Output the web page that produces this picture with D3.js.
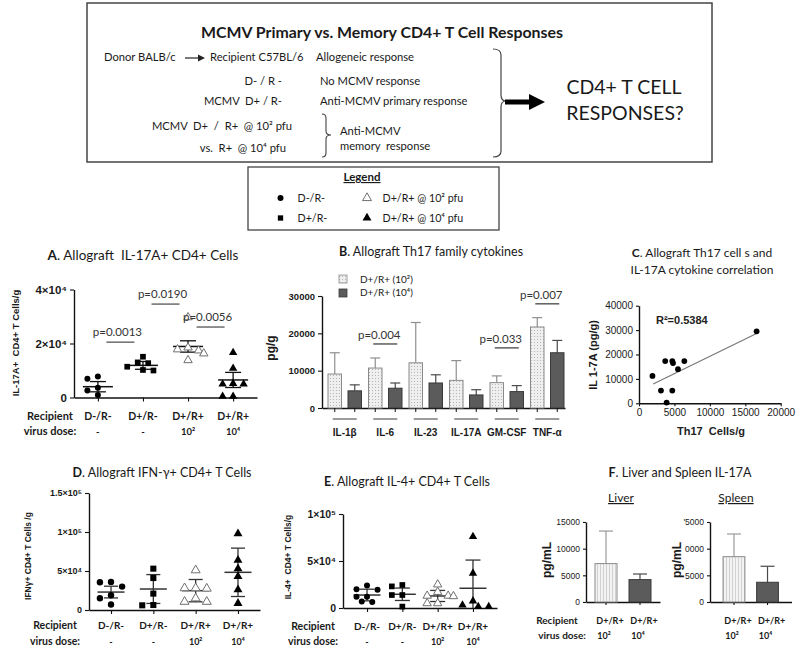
<!DOCTYPE html>
<html>
<head>
<meta charset="utf-8">
<script src="https://cdn.jsdelivr.net/npm/d3@7/dist/d3.min.js"></script>
<style>
  body { margin: 0; background: #fff; }
  text { white-space: pre; }
</style>
</head>
<body>
<div id="wrapper"></div>
<script>
// ---- values ----
const groupLabels = ["D-/R-", "D+/R-", "D+/R+", "D+/R+"];
const doseLabels = ["-", "-", "10²", "10⁴"];
const groupShapes = ["circle", "square", "openTriangle", "triangle"];

// A. IL-17A+ CD4+ cells per g
const il17Cells = [
    [7800, 6900, 3600, 2600, 900],
    [15100, 13000, 12700, 11400, 10200, 10000],
    [29700, 18500, 17800, 17400, 16300, 13800],
    [16600, 10800, 5200, 5000, 5000, 400, 400]
];
const il17Mean = [4000, 11900, 18900, 6500];
const il17Err = [1900, 1450, 2100, 2800];
const il17Ticks = [0, 20000, 40000];
const il17TickLabels = ["0", "2×10⁴", "4×10⁴"];
const il17PText = ["p=0.0013", "p=0.0190", "p=0.0056"];
const il17PPairs = [[0, 1], [1, 2], [2, 3]];
const il17PLevel = [20500, 34600, 26100];

// B. Th17 family cytokines (pg/g)
const cytokines = ["IL-1β", "IL-6", "IL-23", "IL-17A", "GM-CSF", "TNF-α"];
const cytoLow = [9100, 10700, 12100, 7400, 6800, 21700];
const cytoLowErr = [5700, 2700, 10800, 5300, 1800, 2500];
const cytoHigh = [4600, 5300, 6700, 3500, 4400, 14800];
const cytoHighErr = [1600, 1400, 2200, 1400, 1600, 3300];
const cytoTicks = [0, 10000, 20000, 30000];
const cytoLegend = ["D+/R+ (10²)", "D+/R+ (10⁴)"];
const cytoPText = ["p=0.004", "p=0.033", "p=0.007"];
const cytoPGroup = [1, 4, 5];
const cytoPLevel = [17150, 16100, 27900];

// C. correlation
const th17X = [1900, 3700, 4700, 4800, 6400, 5500, 3100, 4700, 3900, 16600];
const th17Y = [11200, 17300, 17300, 16500, 17300, 14000, 5200, 5200, 300, 29500];
const fitX = [2000, 16600];
const fitY = [7900, 28600];
const corrXTicks = [0, 5000, 10000, 15000, 20000];
const corrYTicks = [0, 10000, 20000, 30000, 40000];

// D. IFN-g+ CD4+ cells per g
const ifngCells = [
    [36000, 35500, 30000, 19000, 15000, 7000],
    [53000, 41000, 21000, 6400, 6000],
    [51000, 28000, 28000, 27500, 15000, 10600, 10600],
    [98000, 64000, 53000, 43000, 26000, 8600]
];
const ifngMean = [23000, 26900, 24800, 48300];
const ifngErr = [7500, 18500, 14300, 31000];
const ifngTicks = [0, 50000, 100000, 150000];
const ifngTickLabels = ["0", "5×10⁴", "1×10⁵", "1.5×10⁵"];

// E. IL-4+ CD4+ cells per g
const il4Cells = [
    [24000, 20000, 19500, 12000, 12000, 7000, 6500],
    [24500, 23000, 13800, 13800, 1500],
    [25000, 17000, 13000, 13000, 12500, 5000, 5000],
    [76000, 37000, 7500, 3000, 1500, 1500]
];
const il4Mean = [13800, 14600, 12800, 21000];
const il4Err = [6200, 6600, 5900, 30000];
const il4Ticks = [0, 50000, 100000];
const il4TickLabels = ["0", "5×10⁴", "1×10⁵"];

// F. liver and spleen IL-17A (pg/mL)
const organDoses = ["10²", "10⁴"];
const liverMean = [7200, 4200];
const liverErr = [6100, 1050];
const spleenMean = [8500, 3700];
const spleenErr = [4250, 3000];
const organTicks = [0, 5000, 10000, 15000];
const liverTickLabels = ["0", "5000", "10000", "15000"];
const spleenTickLabels = ["0", "5000", "0000", "'5000"];

// ---- drawing ----
const SANS = "Lato, 'Open Sans', sans-serif";
const ARIAL = "'Liberation Sans', Arial, sans-serif";

const svg = d3.select("#wrapper").append("svg")
    .attr("width", 800).attr("height", 652);

function txt(x, y, s, o = {}) {
    return svg.append("text")
        .attr("x", x).attr("y", y)
        .attr("text-anchor", o.anchor || "start")
        .attr("transform", o.rotate ? `rotate(-90,${x},${y})` : null)
        .style("font-family", o.font || SANS)
        .style("font-size", (o.size || 10) + "px")
        .style("font-weight", o.bold ? "bold" : "normal")
        .style("fill", o.color || "#1a1a1a")
        .text(s);
}

function title(x, y, letter, rest, size) {
    const t = svg.append("text").attr("x", x).attr("y", y).attr("text-anchor", "middle")
        .style("font-family", SANS).style("font-size", size + "px").style("fill", "#1a1a1a");
    t.append("tspan").style("font-weight", "bold").text(letter);
    t.append("tspan").text(rest);
}

function axisStyle(g, size, bold, font) {
    g.select(".domain").attr("stroke", "#111").attr("stroke-width", 1.4);
    g.selectAll(".tick line").attr("stroke", "#111").attr("stroke-width", 1.1);
    g.selectAll(".tick text")
        .style("font-family", font || ARIAL)
        .style("font-size", size + "px")
        .style("font-weight", bold ? "bold" : "normal")
        .style("fill", "#1a1a1a");
}

function drawMarker(g, shape, x, y, r) {
    const type = shape === "circle" ? d3.symbolCircle
        : shape === "square" ? d3.symbolSquare : d3.symbolTriangle;
    const area = shape === "circle" ? Math.PI * r * r
        : shape === "square" ? 3.6 * r * r : 3.4 * r * r;
    g.append("path")
        .attr("d", d3.symbol().type(type).size(area))
        .attr("transform", `translate(${x},${y})`)
        .attr("fill", shape === "openTriangle" ? "#fff" : "#000")
        .attr("stroke", shape === "openTriangle" ? "#6f6f6f" : "none")
        .attr("stroke-width", 1);
}

// spread points of equal height sideways so they do not overlap
function dodge(vals, y, d) {
    const placed = [];
    const steps = [0, -1, 1, -2, 2, -3, 3];
    return vals.map(v => ({ v, py: y(v) }))
        .sort((a, b) => a.py - b.py)
        .map(p => {
            let off = 0;
            for (const s of steps) {
                off = s * d * 0.75;
                if (placed.every(q => Math.hypot(q.off - off, q.py - p.py) >= d)) break;
            }
            placed.push({ off, py: p.py });
            return { ...p, off };
        });
}

function dotPanel(p) {
    const g = svg.append("g");
    const [x0] = p.x.range();
    const base = p.y.range()[0];
    g.append("g").attr("transform", `translate(${x0},0)`)
        .call(d3.axisLeft(p.y).tickValues(p.ticks)
            .tickFormat((d, i) => p.tickLabels[i]).tickSize(4).tickSizeOuter(0))
        .call(axisStyle, p.tickFont, true);
    g.append("g").attr("transform", `translate(0,${base})`)
        .call(d3.axisBottom(p.x).tickFormat("").tickSize(4).tickSizeOuter(0))
        .call(axisStyle, 10, false);

    p.values.forEach((vals, i) => {
        const cx = p.x(i);
        const m = p.mean[i], e = p.err[i];
        const top = p.y(m + e), bot = p.y(Math.max(0, m - e));
        g.append("line").attr("x1", cx - p.meanW / 2).attr("x2", cx + p.meanW / 2)
            .attr("y1", p.y(m)).attr("y2", p.y(m))
            .attr("stroke", p.lineColor).attr("stroke-width", 1.5);
        g.append("line").attr("x1", cx).attr("x2", cx).attr("y1", top).attr("y2", bot)
            .attr("stroke", p.lineColor).attr("stroke-width", 1.3);
        [top, bot].forEach(yy => {
            if (yy >= base - 0.5) return;
            g.append("line").attr("x1", cx - p.capW / 2).attr("x2", cx + p.capW / 2)
                .attr("y1", yy).attr("y2", yy)
                .attr("stroke", p.lineColor).attr("stroke-width", 1.3);
        });
        dodge(vals, p.y, p.dot * 2 + 1)
            .forEach(q => drawMarker(g, groupShapes[i], cx + q.off, q.py, p.dot));
    });

    txt(p.recX, p.labY, "Recipient", { anchor: "middle", bold: true, size: p.labSize });
    txt(p.recX, p.labY + p.labGap, "virus dose:", { anchor: "middle", bold: true, size: p.labSize });
    groupLabels.forEach((s, i) => {
        txt(p.x(i), p.labY, s, { anchor: "middle", bold: true, size: p.labSize - 0.5 });
        txt(p.x(i), p.labY + p.labGap, doseLabels[i], { anchor: "middle", bold: true, size: p.labSize - 1.5 });
    });
    txt(p.ylabX, p.ylabY, p.ylab, { anchor: "middle", bold: true, size: p.ylabSize, font: ARIAL, rotate: true });
}

// patterns for the light bars
const defs = svg.append("defs");
const dots = defs.append("pattern").attr("id", "dots")
    .attr("width", 3).attr("height", 3).attr("patternUnits", "userSpaceOnUse");
dots.append("rect").attr("width", 3).attr("height", 3).attr("fill", "#efefef");
dots.append("rect").attr("width", 1).attr("height", 1).attr("fill", "#b5b5b5");
const stripes = defs.append("pattern").attr("id", "stripes")
    .attr("width", 3).attr("height", 3).attr("patternUnits", "userSpaceOnUse");
stripes.append("rect").attr("width", 3).attr("height", 3).attr("fill", "#f3f3f3");
stripes.append("rect").attr("width", 1).attr("height", 3).attr("fill", "#d2d2d2");

// ---------- top schematic ----------
const ROW = 11.2;
svg.append("rect").attr("x", 87).attr("y", 3).attr("width", 625).attr("height", 159)
    .attr("fill", "none").attr("stroke", "#444").attr("stroke-width", 1.5);
txt(382, 38, "MCMV Primary vs. Memory CD4+ T Cell Responses", { anchor: "middle", bold: true, size: 16 })
    .attr("textLength", 362).attr("lengthAdjust", "spacingAndGlyphs");
txt(104, 61, "Donor BALB/c", { size: ROW });
svg.append("line").attr("x1", 185).attr("x2", 199).attr("y1", 58).attr("y2", 58)
    .attr("stroke", "#222").attr("stroke-width", 1.2);
svg.append("path").attr("d", "M198,54.5 L205,58 L198,61.5 Z").attr("fill", "#222");
txt(210, 61, "Recipient C57BL/6", { size: ROW });
txt(316, 61, "Allogeneic response", { size: ROW });
txt(282, 85, "D- / R -", { anchor: "end", size: ROW });
txt(320, 85, "No MCMV response", { size: ROW });
txt(282, 105, "MCMV  D+ / R-", { anchor: "end", size: ROW });
txt(320, 105, "Anti-MCMV primary response", { size: ROW });
txt(292, 130, "MCMV  D+  /  R+  @ 10² pfu", { anchor: "end", size: ROW });
txt(286, 152, "vs.  R+  @ 10⁴ pfu", { anchor: "end", size: ROW });
txt(340, 135, "Anti-MCMV", { size: ROW });
txt(340, 150, "memory  response", { size: ROW });
svg.append("path")
    .attr("d", "M322,114 Q326,114 326,118 L326,131 Q326,135 331,135 Q326,135 326,139 L326,153 Q326,157 322,157")
    .attr("fill", "none").attr("stroke", "#444").attr("stroke-width", 1.1);
svg.append("path")
    .attr("d", "M493,49 Q501,49 501,55 L501,95 Q501,101 506,101 Q501,101 501,107 L501,151 Q501,157 493,157")
    .attr("fill", "none").attr("stroke", "#444").attr("stroke-width", 1.2);
svg.append("rect").attr("x", 505).attr("y", 99.5).attr("width", 26).attr("height", 5).attr("fill", "#000");
svg.append("path").attr("d", "M529,94 L545,102 L529,110 Z").attr("fill", "#000");
txt(624, 94, "CD4+ T CELL", { anchor: "middle", size: 19.5 });
txt(625, 120, "RESPONSES?", { anchor: "middle", size: 19.5 });

// ---------- legend box ----------
const LEG = 10.7;
svg.append("rect").attr("x", 248).attr("y", 167).attr("width", 251).attr("height", 63)
    .attr("fill", "none").attr("stroke", "#444").attr("stroke-width", 1.3);
txt(362, 181, "Legend", { anchor: "middle", bold: true, size: 11.5 })
    .style("text-decoration", "underline");
const legG = svg.append("g");
drawMarker(legG, "circle", 280.5, 198, 3);
drawMarker(legG, "square", 280.5, 218, 2.8);
drawMarker(legG, "openTriangle", 367, 198, 3.2);
drawMarker(legG, "triangle", 367, 218, 3.2);
txt(297.5, 202, "D-/R-", { size: LEG });
txt(297.5, 222, "D+/R-", { size: LEG });
txt(382.5, 202, "D+/R+ @ 10² pfu", { size: LEG });
txt(382.5, 222, "D+/R+ @ 10⁴ pfu", { size: LEG });

// ---------- A ----------
title(143, 260, "A", ". Allograft  IL-17A+ CD4+ Cells", 13.5);
const aY = d3.scaleLinear().domain([0, 40000]).range([397.5, 289.5]);
const aX = d3.scalePoint().domain(d3.range(4)).range([74, 257]).padding(0.53);
dotPanel({
    x: aX, y: aY, values: il17Cells, mean: il17Mean, err: il17Err,
    ticks: il17Ticks, tickLabels: il17TickLabels, tickFont: 11.5,
    meanW: 30, capW: 16, dot: 3, lineColor: "#111",
    recX: 50, labY: 420, labGap: 15, labSize: 11,
    ylab: "IL-17A+  CD4+ T Cells/g", ylabX: 19, ylabY: 343, ylabSize: 9.5
});
il17PText.forEach((s, i) => {
    const [a, b] = il17PPairs[i];
    const mid = (aX(a) + aX(b)) / 2;
    const ly = aY(il17PLevel[i]);
    svg.append("line").attr("x1", mid - 14).attr("x2", mid + 14).attr("y1", ly).attr("y2", ly)
        .attr("stroke", "#555").attr("stroke-width", 1.3);
    txt(mid - 3, ly - 6, s, { anchor: "middle", size: 11.5, color: "#333" });
});

// ---------- B ----------
title(431, 256, "B", ". Allograft Th17 family cytokines", 12.5);
const bY = d3.scaleLinear().domain([0, 30000]).range([408, 296]);
const bX = d3.scaleBand().domain(cytokines).range([322, 565]);
const bInner = d3.scaleBand().domain(["lo", "hi"]).range([6, 39.5]).paddingInner(0.325);
svg.append("g").attr("transform", "translate(322,0)")
    .call(d3.axisLeft(bY).tickValues(cytoTicks).tickFormat(d3.format("d")).tickSize(4).tickSizeOuter(0))
    .call(axisStyle, 9.5, true);
svg.append("g").attr("transform", "translate(0,408)")
    .call(d3.axisBottom(bX).tickFormat("").tickSize(0))
    .call(axisStyle, 9, false);
const bG = svg.append("g");
cytokines.forEach((c, i) => {
    [["lo", cytoLow[i], cytoLowErr[i]], ["hi", cytoHigh[i], cytoHighErr[i]]].forEach(([k, v, e]) => {
        const x = bX(c) + bInner(k), w = bInner.bandwidth(), cx = x + w / 2;
        const col = k === "lo" ? "#8f8f8f" : "#4a4a4a";
        bG.append("line").attr("x1", cx).attr("x2", cx).attr("y1", bY(v)).attr("y2", bY(v + e))
            .attr("stroke", col).attr("stroke-width", 1.2);
        bG.append("line").attr("x1", cx - 5).attr("x2", cx + 5).attr("y1", bY(v + e)).attr("y2", bY(v + e))
            .attr("stroke", col).attr("stroke-width", 1.2);
        bG.append("rect").attr("x", x).attr("y", bY(v)).attr("width", w).attr("height", bY(0) - bY(v))
            .attr("fill", k === "lo" ? "url(#dots)" : "#5b5b5b")
            .attr("stroke", k === "lo" ? "#8a8a8a" : "#3a3a3a").attr("stroke-width", 1);
        bG.append("line").attr("x1", cx).attr("x2", cx).attr("y1", 408).attr("y2", 412)
            .attr("stroke", "#111").attr("stroke-width", 1);
    });
    const gc = bX(c) + bX.bandwidth() / 2 + 2.5;
    bG.append("line").attr("x1", gc - 12).attr("x2", gc + 12).attr("y1", 419).attr("y2", 419)
        .attr("stroke", "#666").attr("stroke-width", 1.3);
    txt(gc, 436, c, { anchor: "middle", bold: true, size: 10, font: ARIAL });
});
cytoPText.forEach((s, i) => {
    const c = cytokines[cytoPGroup[i]];
    const x1 = bX(c) + bInner("lo") + bInner.bandwidth() / 2 - 2;
    const x2 = bX(c) + bInner("hi") + bInner.bandwidth() / 2 + 2;
    const ly = bY(cytoPLevel[i]);
    bG.append("line").attr("x1", x1).attr("x2", x2).attr("y1", ly).attr("y2", ly)
        .attr("stroke", "#444").attr("stroke-width", 1.3);
    txt((x1 + x2) / 2 - 6, ly - 5, s, { anchor: "middle", size: 11.5, color: "#333" });
});
cytoLegend.forEach((s, i) => {
    bG.append("rect").attr("x", 339).attr("y", 275 + i * 14).attr("width", 8).attr("height", 8)
        .attr("fill", i === 0 ? "url(#dots)" : "#5b5b5b")
        .attr("stroke", i === 0 ? "#8a8a8a" : "#3a3a3a").attr("stroke-width", 0.8);
    txt(360, 283 + i * 13, s, { size: 10 });
});
txt(275, 348, "pg/g", { anchor: "middle", bold: true, size: 12, font: ARIAL, rotate: true });

// ---------- C ----------
title(702, 257, "C", ". Allograft Th17 cell s and", 12);
txt(702, 274, "IL-17A cytokine correlation", { anchor: "middle", size: 12 });
const cX = d3.scaleLinear().domain([0, 20000]).range([639, 780.7]);
const cY = d3.scaleLinear().domain([0, 40000]).range([403.3, 305.7]);
svg.append("g").attr("transform", "translate(0,403.3)")
    .call(d3.axisBottom(cX).tickValues(corrXTicks).tickFormat(d3.format("d")).tickSize(3).tickSizeOuter(0))
    .call(axisStyle, 10, false);
svg.append("g").attr("transform", "translate(639,0)")
    .call(d3.axisLeft(cY).tickValues(corrYTicks).tickFormat(d3.format("d")).tickSize(3).tickSizeOuter(0))
    .call(axisStyle, 10, false);
svg.append("line")
    .attr("x1", cX(fitX[0])).attr("y1", cY(fitY[0]))
    .attr("x2", cX(fitX[1])).attr("y2", cY(fitY[1]))
    .attr("stroke", "#777").attr("stroke-width", 1.2);
svg.append("g").selectAll("circle").data(th17X).join("circle")
    .attr("cx", d => cX(d)).attr("cy", (d, i) => cY(th17Y[i])).attr("r", 2.9).attr("fill", "#000");
txt(656, 324, "R²=0.5384", { bold: true, size: 11, font: ARIAL, color: "#222" });
txt(711, 435, "Th17  Cells/g", { anchor: "middle", bold: true, size: 11, font: ARIAL, color: "#222" });
txt(597, 355, "IL 1-7A (pg/g)", { anchor: "middle", bold: true, size: 11, font: ARIAL, rotate: true });

// ---------- D ----------
title(162, 477, "D", ". Allograft IFN-γ+ CD4+ T Cells", 12.5);
dotPanel({
    x: d3.scalePoint().domain(d3.range(4)).range([89, 260]).padding(0.52),
    y: d3.scaleLinear().domain([0, 150000]).range([610, 493]),
    values: ifngCells, mean: ifngMean, err: ifngErr,
    ticks: ifngTicks, tickLabels: ifngTickLabels, tickFont: 9,
    meanW: 27, capW: 14, dot: 3.2, lineColor: "#333",
    recX: 55, labY: 629, labGap: 16, labSize: 10.5,
    ylab: "IFNγ+ CD4+ T Cells /g", ylabX: 31, ylabY: 556, ylabSize: 8.5
});

// ---------- E ----------
title(407, 486, "E", ". Allograft IL-4+ CD4+ T Cells", 12.5);
dotPanel({
    x: d3.scalePoint().domain(d3.range(4)).range([343, 497]).padding(0.68),
    y: d3.scaleLinear().domain([0, 100000]).range([608, 514]),
    values: il4Cells, mean: il4Mean, err: il4Err,
    ticks: il4Ticks, tickLabels: il4TickLabels, tickFont: 10.5,
    meanW: 27, capW: 15, dot: 3, lineColor: "#333",
    recX: 313, labY: 630, labGap: 15, labSize: 10.5,
    ylab: "IL-4+  CD4+ T Cells/g", ylabX: 291, ylabY: 557, ylabSize: 8.5
});

// ---------- F ----------
title(680, 477, "F", ". Liver and Spleen IL-17A", 12.5);
txt(621, 502, "Liver", { anchor: "middle", size: 12 }).style("text-decoration", "underline");
txt(736, 502, "Spleen", { anchor: "middle", size: 12 }).style("text-decoration", "underline");
const fY = d3.scaleLinear().domain([0, 15000]).range([602, 522]);

function organPanel(x, means, errs, tickLabels, ylabX) {
    const g = svg.append("g");
    g.append("g").attr("transform", `translate(${x.range()[0]},0)`)
        .call(d3.axisLeft(fY).tickValues(organTicks).tickFormat((d, i) => tickLabels[i])
            .tickSize(3).tickSizeOuter(0))
        .call(axisStyle, 8.5, false);
    g.append("g").attr("transform", "translate(0,602)")
        .call(d3.axisBottom(x).tickFormat("").tickSize(3).tickSizeOuter(0))
        .call(axisStyle, 8, false);
    organDoses.forEach((d, i) => {
        const bx = x(d), w = x.bandwidth(), cx = bx + w / 2;
        const v = means[i], e = errs[i];
        const col = i === 0 ? "#9a9a9a" : "#4a4a4a";
        g.append("line").attr("x1", cx).attr("x2", cx).attr("y1", fY(v)).attr("y2", fY(v + e))
            .attr("stroke", col).attr("stroke-width", 1.2);
        g.append("line").attr("x1", cx - 7).attr("x2", cx + 7).attr("y1", fY(v + e)).attr("y2", fY(v + e))
            .attr("stroke", col).attr("stroke-width", 1.2);
        g.append("rect").attr("x", bx).attr("y", fY(v)).attr("width", w).attr("height", fY(0) - fY(v))
            .attr("fill", i === 0 ? "url(#stripes)" : "#5b5b5b")
            .attr("stroke", i === 0 ? "#8a8a8a" : "#3a3a3a").attr("stroke-width", 1);
        txt(cx + 4, 624, "D+/R+", { anchor: "middle", bold: true, size: 9 });
        txt(cx - 2, 639, d, { anchor: "middle", bold: true, size: 9 });
    });
    txt(ylabX, 560, "pg/mL", { anchor: "middle", bold: true, size: 12, font: ARIAL, rotate: true });
}
organPanel(d3.scaleBand().domain(organDoses).range([586, 660]).paddingInner(0.353).paddingOuter(0.265),
    liverMean, liverErr, liverTickLabels, 551);
organPanel(d3.scaleBand().domain(organDoses).range([710, 791.5]).paddingInner(0.35).paddingOuter(0.39),
    spleenMean, spleenErr, spleenTickLabels, 681);
txt(557, 624, "Recipient", { anchor: "middle", bold: true, size: 10 });
txt(562, 639, "virus dose:", { anchor: "middle", bold: true, size: 10 });
</script>
</body>
</html>
